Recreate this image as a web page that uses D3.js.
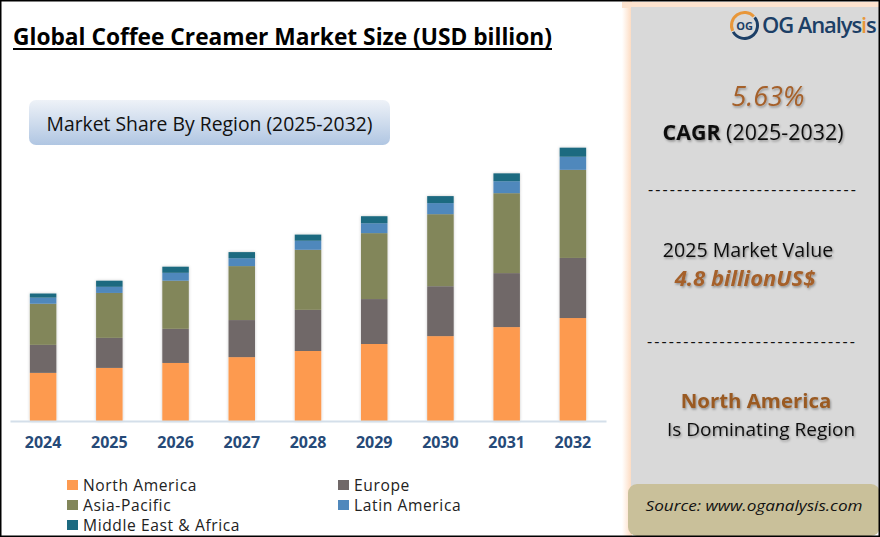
<!DOCTYPE html>
<html>
<head>
<meta charset="utf-8">
<script src="https://cdn.jsdelivr.net/npm/d3@7"></script>
<style>
  html, body { margin: 0; padding: 0; background: #fff; }
  svg { display: block; }
  text { font-family: "Open Sans", sans-serif; }
</style>
</head>
<body>
<div id="chart"></div>
<script>
// Data (USD billion)
const years = ["2024", "2025", "2026", "2027", "2028", "2029", "2030", "2031", "2032"];
const regions = ["North America", "Europe", "Asia-Pacific", "Latin America", "Middle East & Africa"];
const northAmerica = [1.65, 1.82, 1.99, 2.19, 2.40, 2.64, 2.91, 3.22, 3.53];
const europe = [0.96, 1.03, 1.17, 1.27, 1.41, 1.54, 1.71, 1.85, 2.06];
const asiaPacific = [1.41, 1.54, 1.65, 1.85, 2.06, 2.26, 2.47, 2.74, 3.02];
const latinAmerica = [0.21, 0.21, 0.27, 0.27, 0.31, 0.34, 0.38, 0.41, 0.45];
const middleEast = [0.14, 0.21, 0.21, 0.21, 0.21, 0.24, 0.24, 0.27, 0.31];
const regionColors = ["#fd9a50", "#706868", "#82865a", "#5088bc", "#1c6a80"];

const width = 880;
const height = 537;

const svg = d3.select("#chart")
    .append("svg")
    .attr("width", width)
    .attr("height", height);

const defs = svg.append("defs");

const textShadow = defs.append("filter").attr("id", "textShadow")
    .attr("x", "-10%").attr("y", "-20%").attr("width", "120%").attr("height", "150%");
textShadow.append("feDropShadow")
    .attr("dx", 1).attr("dy", 1.5).attr("stdDeviation", 1)
    .attr("flood-color", "#000").attr("flood-opacity", 0.35);

const barShadow = defs.append("filter").attr("id", "barShadow")
    .attr("x", "-20%").attr("y", "-5%").attr("width", "140%").attr("height", "110%");
barShadow.append("feDropShadow")
    .attr("dx", 0).attr("dy", 0).attr("stdDeviation", 1.5)
    .attr("flood-color", "#000").attr("flood-opacity", 0.22);

const pillGrad = defs.append("linearGradient").attr("id", "pillGrad")
    .attr("x1", 0).attr("y1", 0).attr("x2", 0).attr("y2", 1);
pillGrad.append("stop").attr("offset", "0%").attr("stop-color", "#eef2f8");
pillGrad.append("stop").attr("offset", "100%").attr("stop-color", "#b0c6e2");

const glow = defs.append("linearGradient").attr("id", "panelGlow");
glow.append("stop").attr("offset", "0%").attr("stop-color", "#ffffff");
glow.append("stop").attr("offset", "100%").attr("stop-color", "#fdd9bd");

// Title
svg.append("text")
    .attr("x", 13).attr("y", 45)
    .attr("font-size", 23).attr("font-weight", 700)
    .attr("textLength", 539).attr("lengthAdjust", "spacingAndGlyphs")
    .attr("fill", "#000")
    .text("Global Coffee Creamer Market Size (USD billion)");
svg.append("rect").attr("x", 13).attr("y", 48).attr("width", 539).attr("height", 2).attr("fill", "#000");

// Pill
svg.append("rect")
    .attr("x", 29).attr("y", 100).attr("width", 361).attr("height", 45).attr("rx", 7)
    .attr("fill", "url(#pillGrad)");
svg.append("text")
    .attr("x", 209.5).attr("y", 131)
    .attr("text-anchor", "middle").attr("font-size", 19.5)
    .attr("textLength", 326).attr("lengthAdjust", "spacingAndGlyphs")
    .attr("fill", "#111")
    .text("Market Share By Region (2025-2032)");

// Stacked bars
const rows = years.map((year, i) => ({
    year,
    [regions[0]]: northAmerica[i],
    [regions[1]]: europe[i],
    [regions[2]]: asiaPacific[i],
    [regions[3]]: latinAmerica[i],
    [regions[4]]: middleEast[i]
}));

const x = d3.scaleBand().domain(years).range([10, 606]).paddingInner(0.6).paddingOuter(0.3);
const y = d3.scaleLinear().domain([0, 10]).range([421, 129.3]);
const color = d3.scaleOrdinal().domain(regions).range(regionColors);

const stacked = d3.stack().keys(regions)(rows);

const bars = svg.append("g").attr("filter", "url(#barShadow)");
bars.selectAll("g")
    .data(stacked)
    .enter()
    .append("g")
    .attr("fill", d => color(d.key))
    .selectAll("rect")
    .data(d => d)
    .enter()
    .append("rect")
    .attr("x", d => x(d.data.year))
    .attr("y", d => y(d[1]))
    .attr("width", x.bandwidth())
    .attr("height", d => y(d[0]) - y(d[1]));

// X axis
const xAxis = svg.append("g")
    .attr("transform", "translate(0,421)")
    .call(d3.axisBottom(x).tickSize(0).tickPadding(16));
xAxis.select(".domain").attr("stroke", "#d4dfea").attr("stroke-width", 2);
xAxis.selectAll("text")
    .attr("font-family", "Open Sans")
    .attr("font-size", 16)
    .attr("font-weight", 700)
    .attr("fill", "#264a78");

// Legend
const legendCols = [67, 338];
const legendRows = [485, 505, 525];
const legendPos = [[0, 0], [1, 0], [0, 1], [1, 1], [0, 2]];
const legend = svg.append("g").selectAll("g")
    .data(regions)
    .enter()
    .append("g")
    .attr("transform", (d, i) => `translate(${legendCols[legendPos[i][0]]},${legendRows[legendPos[i][1]]})`);
legend.append("rect")
    .attr("x", 0).attr("y", -5).attr("width", 11).attr("height", 10)
    .attr("fill", d => color(d));
legend.append("text")
    .attr("x", 16).attr("y", 6)
    .attr("font-size", 15.6)
    .attr("letter-spacing", 0.6)
    .attr("fill", "#222")
    .text(d => d);

// Right panel
svg.append("rect").attr("x", 622).attr("y", 0).attr("width", 10).attr("height", height).attr("fill", "url(#panelGlow)");
svg.append("rect").attr("x", 622).attr("y", 2).attr("width", 258).attr("height", 6).attr("fill", "#fde3cf");
svg.append("rect").attr("x", 631).attr("y", 7).attr("width", 249).attr("height", 490).attr("fill", "#d9d9d9");

// Logo
const logo = svg.append("g").attr("transform", "translate(744.5,25.5)");
const logoArc = d3.arc();
logo.append("path")
    .attr("d", logoArc({ innerRadius: 11.5, outerRadius: 14.5, startAngle: -2.0, endAngle: 0.8 }))
    .attr("fill", "#e8973a");
logo.append("path")
    .attr("d", logoArc({ innerRadius: 11.5, outerRadius: 14.5, startAngle: 0.9, endAngle: 4.2 }))
    .attr("fill", "#1c3f66");
logo.append("text")
    .attr("text-anchor", "middle").attr("y", 4)
    .attr("font-size", 11).attr("font-weight", 700).attr("fill", "#1c3f66")
    .text("OG");
const logoText = svg.append("text")
    .attr("x", 762).attr("y", 33)
    .attr("font-size", 22).attr("font-weight", 600)
    .attr("letter-spacing", -1.1)
    .attr("fill", "#1c3f66");
logoText.append("tspan").text("OG Analys");
logoText.append("tspan").attr("fill", "#e8973a").text("i");
logoText.append("tspan").text("s");

// Panel texts
const panelTexts = svg.append("g").attr("text-anchor", "middle").attr("filter", "url(#textShadow)");
panelTexts.append("text")
    .attr("x", 768).attr("y", 106)
    .attr("font-size", 27).attr("font-style", "italic").attr("fill", "#a5602a")
    .text("5.63%");
const cagr = panelTexts.append("text")
    .attr("x", 753).attr("y", 140)
    .attr("font-size", 21.4).attr("fill", "#111");
cagr.append("tspan").attr("font-weight", 700).text("CAGR");
cagr.append("tspan").text(" (2025-2032)");
panelTexts.append("text")
    .attr("x", 748).attr("y", 257)
    .attr("font-size", 19.6).attr("fill", "#111")
    .text("2025 Market Value");
panelTexts.append("text")
    .attr("x", 745).attr("y", 286)
    .attr("font-size", 22).attr("font-weight", 700).attr("font-style", "italic").attr("fill", "#a5602a")
    .text("4.8 billionUS$");
panelTexts.append("text")
    .attr("x", 756).attr("y", 408)
    .attr("font-size", 20.4).attr("font-weight", 700).attr("fill", "#9a5a22")
    .text("North America");
panelTexts.append("text")
    .attr("x", 761).attr("y", 436)
    .attr("font-size", 19).attr("fill", "#111")
    .text("Is Dominating Region");

svg.append("text")
    .attr("x", 752).attr("y", 195)
    .attr("text-anchor", "middle").attr("font-size", 16).attr("fill", "#111")
    .attr("textLength", 208)
    .text("-----------------------------");
svg.append("text")
    .attr("x", 751).attr("y", 347)
    .attr("text-anchor", "middle").attr("font-size", 16).attr("fill", "#111")
    .attr("textLength", 208)
    .text("-----------------------------");

// Source box
svg.append("rect")
    .attr("x", 628).attr("y", 484).attr("width", 252).attr("height", 52).attr("rx", 9)
    .attr("fill", "#c9c09a");
svg.append("text")
    .attr("x", 754).attr("y", 511)
    .attr("text-anchor", "middle").attr("font-size", 15).attr("font-style", "italic").attr("fill", "#111")
    .attr("textLength", 217).attr("lengthAdjust", "spacingAndGlyphs")
    .text("Source: www.oganalysis.com");

// Outer frame
svg.append("rect")
    .attr("x", 0.5).attr("y", 0.5).attr("width", width - 1).attr("height", height - 1)
    .attr("fill", "none").attr("stroke", "#000").attr("stroke-width", 2);
</script>
</body>
</html>
